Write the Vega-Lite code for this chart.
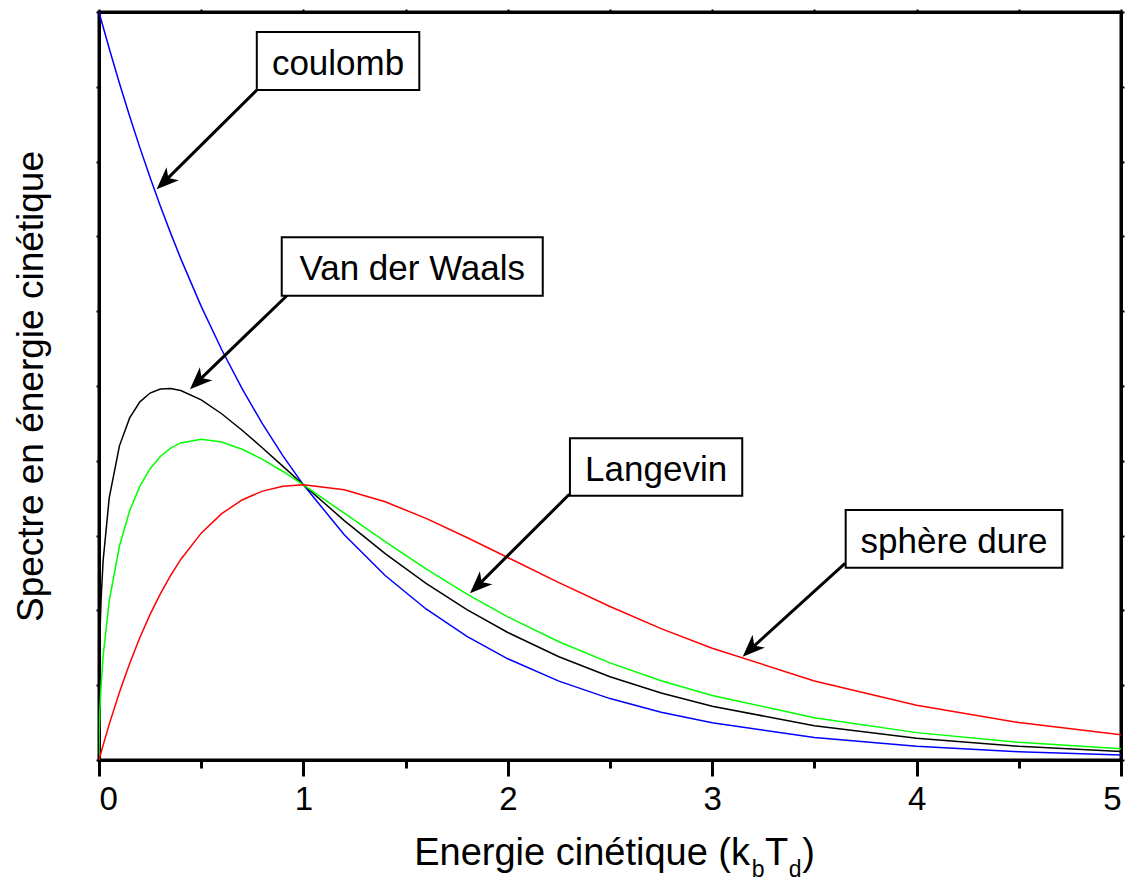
{
  "$schema": "https://vega.github.io/schema/vega-lite/v6.json",
  "width": 1022,
  "height": 748,
  "autosize": {"type": "none"},
  "padding": {"left": 99, "top": 12, "right": 13, "bottom": 123},
  "background": "white",
  "config": {
    "font": "Liberation Sans",
    "view": {"stroke": "black", "strokeWidth": 3},
    "axis": {"domainColor": "black", "domainWidth": 3, "tickColor": "black", "labelColor": "black", "titleColor": "black", "titleFontWeight": "normal", "grid": false, "labelFont": "Liberation Sans", "titleFont": "Liberation Sans"}
  },
  "datasets": {
    "curves": [
      {"E": 0, "coulomb": 10, "vdw": 0, "langevin": 0, "sphere": 0},
      {"E": 0.001, "coulomb": 9.99, "vdw": 0.999, "langevin": 0.316, "sphere": 0.01},
      {"E": 0.005, "coulomb": 9.95, "vdw": 1.701, "langevin": 0.704, "sphere": 0.05},
      {"E": 0.01, "coulomb": 9.9, "vdw": 2.133, "langevin": 0.99, "sphere": 0.099},
      {"E": 0.02, "coulomb": 9.802, "vdw": 2.661, "langevin": 1.386, "sphere": 0.196},
      {"E": 0.05, "coulomb": 9.512, "vdw": 3.504, "langevin": 2.127, "sphere": 0.476},
      {"E": 0.1, "coulomb": 9.048, "vdw": 4.2, "langevin": 2.861, "sphere": 0.905},
      {"E": 0.15, "coulomb": 8.607, "vdw": 4.573, "langevin": 3.333, "sphere": 1.291},
      {"E": 0.2, "coulomb": 8.187, "vdw": 4.788, "langevin": 3.661, "sphere": 1.637},
      {"E": 0.25, "coulomb": 7.788, "vdw": 4.906, "langevin": 3.894, "sphere": 1.947},
      {"E": 0.3, "coulomb": 7.408, "vdw": 4.959, "langevin": 4.058, "sphere": 2.222},
      {"E": 0.35, "coulomb": 7.047, "vdw": 4.966, "langevin": 4.169, "sphere": 2.466},
      {"E": 0.4, "coulomb": 6.703, "vdw": 4.939, "langevin": 4.239, "sphere": 2.681},
      {"E": 0.5, "coulomb": 6.065, "vdw": 4.814, "langevin": 4.289, "sphere": 3.033},
      {"E": 0.6, "coulomb": 5.488, "vdw": 4.629, "langevin": 4.251, "sphere": 3.293},
      {"E": 0.7, "coulomb": 4.966, "vdw": 4.409, "langevin": 4.155, "sphere": 3.476},
      {"E": 0.8, "coulomb": 4.493, "vdw": 4.171, "langevin": 4.019, "sphere": 3.595},
      {"E": 0.9, "coulomb": 4.066, "vdw": 3.926, "langevin": 3.857, "sphere": 3.659},
      {"E": 1.0, "coulomb": 3.679, "vdw": 3.679, "langevin": 3.679, "sphere": 3.679},
      {"E": 1.2, "coulomb": 3.012, "vdw": 3.201, "langevin": 3.299, "sphere": 3.614},
      {"E": 1.4, "coulomb": 2.466, "vdw": 2.759, "langevin": 2.918, "sphere": 3.452},
      {"E": 1.6, "coulomb": 2.019, "vdw": 2.361, "langevin": 2.554, "sphere": 3.23},
      {"E": 1.8, "coulomb": 1.653, "vdw": 2.011, "langevin": 2.218, "sphere": 2.975},
      {"E": 2.0, "coulomb": 1.353, "vdw": 1.705, "langevin": 1.914, "sphere": 2.707},
      {"E": 2.25, "coulomb": 1.054, "vdw": 1.381, "langevin": 1.581, "sphere": 2.372},
      {"E": 2.5, "coulomb": 0.821, "vdw": 1.114, "langevin": 1.298, "sphere": 2.052},
      {"E": 2.75, "coulomb": 0.639, "vdw": 0.895, "langevin": 1.06, "sphere": 1.757},
      {"E": 3.0, "coulomb": 0.498, "vdw": 0.718, "langevin": 0.863, "sphere": 1.494},
      {"E": 3.5, "coulomb": 0.302, "vdw": 0.459, "langevin": 0.565, "sphere": 1.057},
      {"E": 4.0, "coulomb": 0.183, "vdw": 0.291, "langevin": 0.366, "sphere": 0.733},
      {"E": 4.5, "coulomb": 0.111, "vdw": 0.183, "langevin": 0.236, "sphere": 0.5},
      {"E": 5.0, "coulomb": 0.067, "vdw": 0.115, "langevin": 0.151, "sphere": 0.337}
    ],
    "notes": [
      {"label": "coulomb", "x1": 0.772, "x2": 1.567, "y1": 9.733, "y2": 8.957, "xm": 1.1695, "ym": 9.345, "ax": 0.772, "ay": 8.957, "ex": 0.31, "ey": 7.705, "tx": 0.282, "ty": 7.63},
      {"label": "Van der Waals", "x1": 0.894, "x2": 2.171, "y1": 6.988, "y2": 6.207, "xm": 1.5325, "ym": 6.598, "ax": 0.934, "ay": 6.247, "ex": 0.473, "ey": 5.031, "tx": 0.445, "ty": 4.956},
      {"label": "Langevin", "x1": 2.304, "x2": 3.147, "y1": 4.301, "y2": 3.533, "xm": 2.7255, "ym": 3.917, "ax": 2.301, "ay": 3.552, "ex": 1.843, "ey": 2.304, "tx": 1.815, "ty": 2.229},
      {"label": "sphère dure", "x1": 3.653, "x2": 4.713, "y1": 3.342, "y2": 2.571, "xm": 4.183, "ym": 2.957, "ax": 3.65, "ay": 2.63, "ex": 3.177, "ey": 1.456, "tx": 3.149, "ty": 1.381}
    ]
  },
  "layer": [
    {
      "data": {"name": "curves"},
      "transform": [{"fold": ["coulomb", "vdw", "langevin", "sphere"], "as": ["modele", "valeur"]}],
      "mark": {"type": "line", "strokeWidth": 1.5, "clip": true},
      "encoding": {
        "x": {"field": "E", "type": "quantitative", "scale": {"domain": [0, 5], "nice": false},
          "axis": {"orient": "bottom", "values": [0, 1, 2, 3, 4, 5], "format": "d", "tickSize": 16, "tickWidth": 3, "labelFontSize": 33, "labelPadding": 7, "title": null}},
        "y": {"field": "valeur", "type": "quantitative", "scale": {"domain": [0, 10], "nice": false},
          "axis": {"orient": "left", "values": [0, 1, 2, 3, 4, 5, 6, 7, 8, 9, 10], "tickSize": 3, "tickWidth": 2, "labels": false, "title": "Spectre en énergie cinétique", "titleFontSize": 37, "titlePadding": 45}},
        "color": {"field": "modele", "type": "nominal", "scale": {"domain": ["coulomb", "vdw", "langevin", "sphere"], "range": ["#0000ff", "#000000", "#00ff00", "#ff0000"]}, "legend": null}
      }
    },
    {
      "data": {"name": "notes"},
      "mark": {"type": "rule", "strokeWidth": 3, "color": "black", "strokeCap": "butt"},
      "encoding": {
        "x": {"field": "ax", "type": "quantitative", "scale": {"domain": [0, 5], "nice": false},
          "axis": {"orient": "bottom", "values": [0.5, 1.5, 2.5, 3.5, 4.5], "tickSize": 8, "tickWidth": 3, "labels": false, "title": null}},
        "y": {"field": "ay", "type": "quantitative", "scale": {"domain": [0, 10], "nice": false},
          "axis": {"orient": "right", "values": [0, 1, 2, 3, 4, 5, 6, 7, 8, 9, 10], "tickSize": 3, "tickWidth": 2, "labels": false, "title": null}},
        "x2": {"field": "ex"},
        "y2": {"field": "ey"}
      }
    },
    {
      "data": {"name": "notes"},
      "mark": {"type": "point", "shape": "M0,0L-0.8,2L0,1.45L0.8,2Z", "filled": true, "opacity": 1, "color": "black", "strokeWidth": 0, "size": 500, "angle": 226},
      "encoding": {
        "x": {"field": "tx", "type": "quantitative", "scale": {"domain": [0, 5], "nice": false},
          "axis": {"orient": "top", "values": [0, 0.5, 1, 1.5, 2, 2.5, 3, 3.5, 4, 4.5, 5], "tickSize": 3, "tickWidth": 2, "labels": false, "title": null}},
        "y": {"field": "ty", "type": "quantitative", "scale": {"domain": [0, 10], "nice": false}, "axis": null}
      }
    },
    {
      "data": {"name": "notes"},
      "mark": {"type": "rect", "fill": "white", "stroke": "black", "strokeWidth": 2},
      "encoding": {
        "x": {"field": "x1", "type": "quantitative", "scale": {"domain": [0, 5], "nice": false}, "axis": null},
        "x2": {"field": "x2"},
        "y": {"field": "y1", "type": "quantitative", "scale": {"domain": [0, 10], "nice": false}, "axis": null},
        "y2": {"field": "y2"}
      }
    },
    {
      "data": {"name": "notes"},
      "mark": {"type": "text", "fontSize": 35, "color": "black", "align": "center", "baseline": "middle", "dy": 3, "font": "Liberation Sans"},
      "encoding": {
        "x": {"field": "xm", "type": "quantitative", "scale": {"domain": [0, 5], "nice": false}, "axis": null},
        "y": {"field": "ym", "type": "quantitative", "scale": {"domain": [0, 10], "nice": false}, "axis": null},
        "text": {"field": "label", "type": "nominal"}
      }
    },
    {
      "data": {"values": [{}]},
      "mark": {"type": "text", "text": "Energie cinétique (k", "fontSize": 38, "color": "black", "align": "right", "baseline": "alphabetic", "font": "Liberation Sans"},
      "encoding": {
        "x": {"datum": 3.185, "type": "quantitative", "scale": {"domain": [0, 5], "nice": false}, "axis": null},
        "y": {"datum": -1.41, "type": "quantitative", "scale": {"domain": [0, 10], "nice": false}, "axis": null}
      }
    },
    {
      "data": {"values": [{}]},
      "mark": {"type": "text", "text": "b", "fontSize": 23, "color": "black", "align": "left", "baseline": "alphabetic", "font": "Liberation Sans"},
      "encoding": {
        "x": {"datum": 3.193, "type": "quantitative", "scale": {"domain": [0, 5], "nice": false}, "axis": null},
        "y": {"datum": -1.565, "type": "quantitative", "scale": {"domain": [0, 10], "nice": false}, "axis": null}
      }
    },
    {
      "data": {"values": [{}]},
      "mark": {"type": "text", "text": "T", "fontSize": 38, "color": "black", "align": "left", "baseline": "alphabetic", "font": "Liberation Sans"},
      "encoding": {
        "x": {"datum": 3.258, "type": "quantitative", "scale": {"domain": [0, 5], "nice": false}, "axis": null},
        "y": {"datum": -1.41, "type": "quantitative", "scale": {"domain": [0, 10], "nice": false}, "axis": null}
      }
    },
    {
      "data": {"values": [{}]},
      "mark": {"type": "text", "text": "d", "fontSize": 23, "color": "black", "align": "left", "baseline": "alphabetic", "font": "Liberation Sans"},
      "encoding": {
        "x": {"datum": 3.375, "type": "quantitative", "scale": {"domain": [0, 5], "nice": false}, "axis": null},
        "y": {"datum": -1.565, "type": "quantitative", "scale": {"domain": [0, 10], "nice": false}, "axis": null}
      }
    },
    {
      "data": {"values": [{}]},
      "mark": {"type": "text", "text": ")", "fontSize": 38, "color": "black", "align": "left", "baseline": "alphabetic", "font": "Liberation Sans"},
      "encoding": {
        "x": {"datum": 3.44, "type": "quantitative", "scale": {"domain": [0, 5], "nice": false}, "axis": null},
        "y": {"datum": -1.41, "type": "quantitative", "scale": {"domain": [0, 10], "nice": false}, "axis": null}
      }
    }
  ],
  "resolve": {"axis": {"x": "independent", "y": "independent"}}
}
